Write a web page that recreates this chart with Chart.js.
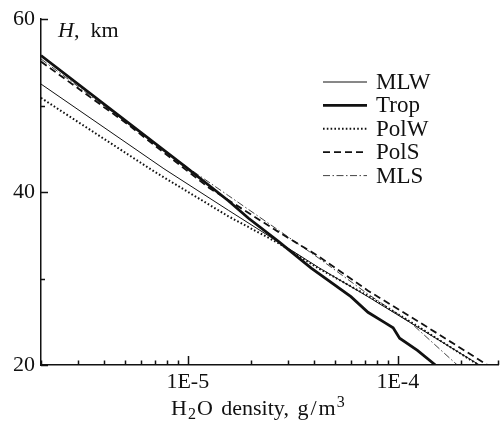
<!DOCTYPE html>
<html>
<head>
<meta charset="utf-8">
<script src="https://cdn.jsdelivr.net/npm/chart.js@4/dist/chart.umd.min.js"></script>
<style>
  body { margin: 0; background: #fff; }
  #wrap { position: relative; width: 502px; height: 421px; font-family: "Liberation Serif", "DejaVu Serif", serif; color: #111; }
  canvas { position: absolute; left: 0; top: 0; }
  .lbl { position: absolute; font-size: 22px; line-height: 22px; white-space: nowrap; }
  #xtitle { word-spacing: 3px; }
  .lbl sub { font-size: 16px; vertical-align: -4px; line-height: 0; margin: 0 1px; }
  .lbl sup { font-size: 16px; vertical-align: 8px; line-height: 0; margin-left: 1px; }
  .slash { margin: 0 2px; }
</style>
</head>
<body>
<div id="wrap">
  <canvas id="myChart" width="502" height="421"></canvas>
  <div class="lbl" id="ytitle" style="left:58px; top:19px;"><i>H</i>,&nbsp; km</div>
  <div class="lbl" id="xtitle" style="left:171px; top:397px;">H<sub>2</sub>O density, g<span class="slash">/</span>m<sup>3</sup></div>
</div>
<script>
// ---------------------------------------------------------------
// data: H2O density (g/m3) vs altitude H (km)
// ---------------------------------------------------------------
var seriesNames = ['MLW', 'Trop', 'PolW', 'PolS', 'MLS'];

var densMLW = [2.0e-6, 7.7e-6, 1.56e-5, 4.18e-5, 7.21e-5, 1.24e-4, 2.45e-4];
var hMLW    = [52.5, 42.7, 37.9, 31.3, 27.9, 24.4, 20.0];

var densTrop = [2.0e-6, 9.9e-6, 1.56e-5, 1.94e-5, 2.7e-5, 3.87e-5, 5.98e-5, 7.21e-5, 8.67e-5, 9.5e-5, 1.02e-4, 1.24e-4, 1.51e-4];
var hTrop    = [55.8, 42.8, 39.0, 37.0, 34.3, 31.2, 27.9, 26.1, 24.9, 24.3, 23.1, 21.7, 20.0];

var densPolW = [2.0e-6, 6.9e-6, 1.56e-5, 2.7e-5, 4.18e-5, 7.21e-5, 1.24e-4, 2.42e-4];
var hPolW    = [50.9, 42.4, 37.2, 34.1, 31.2, 28.0, 24.5, 20.0];

var densPolS = [2.0e-6, 5.14e-6, 1.26e-5, 2.7e-5, 4.18e-5, 7.21e-5, 1.24e-4, 2.67e-4];
var hPolS    = [55.1, 47.9, 40.5, 35.4, 32.6, 28.6, 25.1, 20.0];

var densMLS = [2.0e-6, 5.14e-6, 9.9e-6, 1.56e-5, 2.7e-5, 4.18e-5, 7.21e-5, 1.15e-4, 1.92e-4];
var hMLS    = [55.4, 48.0, 42.9, 39.6, 35.6, 32.4, 28.2, 24.9, 20.0];

var yTicks = [20, 30, 40, 50, 60];
var yTickLabels = ['20', '', '40', '', '60'];
var xTickDecades = [1e-5, 1e-4];
var xTickLabels = ['1E-5', '1E-4'];
var xMin = 2e-6, xMax = 3e-4;

// ---------------------------------------------------------------
function pts(d, h) {
    return d.map(function (v, i) { return { x: v, y: h[i] }; });
}

var xTicks = [];
[-6, -5, -4].forEach(function (e) {
    for (var m = 1; m <= 9; m++) {
        var v = m * Math.pow(10, e);
        if (v >= xMin * 0.999 && v <= xMax * 1.001) xTicks.push(v);
    }
});

function isDecade(v) {
    var l = Math.log10(v);
    return Math.abs(l - Math.round(l)) < 1e-6;
}

var serif = '"Liberation Serif", "DejaVu Serif", serif';

// inward tick marks + legend drawn inside plot
var extras = {
    id: 'extras',
    afterDraw: function (chart) {
        var ctx = chart.ctx;
        var xs = chart.scales.x, ys = chart.scales.y;
        var area = chart.chartArea;
        ctx.save();
        ctx.strokeStyle = '#111';
        ctx.lineWidth = 1.5;
        ctx.setLineDash([]);
        ctx.beginPath();
        xTicks.forEach(function (v) {
            var px = Math.round(xs.getPixelForValue(v)) + 0.5;
            var len = isDecade(v) ? 9 : 4.5;
            ctx.moveTo(px, area.bottom);
            ctx.lineTo(px, area.bottom - len);
        });
        yTicks.forEach(function (v, i) {
            var py = Math.round(ys.getPixelForValue(v)) + 0.5;
            var len = yTickLabels[i] ? 7 : 4;
            ctx.moveTo(area.left, py);
            ctx.lineTo(area.left + len, py);
        });
        ctx.stroke();

        // legend
        var ds = chart.data.datasets;
        ds.forEach(function (d, i) {
            var y = 82 + i * 23.4;
            ctx.strokeStyle = d.borderColor;
            ctx.lineWidth = d.borderWidth;
            ctx.setLineDash(d.borderDash || []);
            ctx.beginPath();
            ctx.moveTo(323, y);
            ctx.lineTo(367, y);
            ctx.stroke();
            ctx.setLineDash([]);
            ctx.fillStyle = '#111';
            ctx.font = '23px ' + serif;
            ctx.textBaseline = 'middle';
            ctx.textAlign = 'left';
            ctx.fillText(d.label, 376, y + 1);
        });
        ctx.restore();
    }
};

var ctx = document.getElementById('myChart').getContext('2d');

var myChart = new Chart(ctx, {
    type: 'scatter',
    data: {
        datasets: [
            { label: seriesNames[0], data: pts(densMLW, hMLW),   borderColor: '#111', borderWidth: 1,   borderDash: [] },
            { label: seriesNames[1], data: pts(densTrop, hTrop), borderColor: '#111', borderWidth: 2.8, borderDash: [] },
            { label: seriesNames[2], data: pts(densPolW, hPolW), borderColor: '#111', borderWidth: 2,   borderDash: [1.6, 2.2] },
            { label: seriesNames[3], data: pts(densPolS, hPolS), borderColor: '#111', borderWidth: 1.8, borderDash: [7, 4] },
            { label: seriesNames[4], data: pts(densMLS, hMLS),   borderColor: '#111', borderWidth: 0.8, borderDash: [7, 2.5, 1.5, 2.5] }
        ].map(function (d) {
            d.showLine = true;
            d.pointRadius = 0;
            d.fill = false;
            d.tension = 0;
            return d;
        })
    },
    options: {
        responsive: false,
        animation: false,
        devicePixelRatio: 1,
        layout: { padding: { top: 18, right: -1, left: 0, bottom: 0 } },
        plugins: {
            legend: { display: false },
            tooltip: { enabled: false }
        },
        scales: {
            x: {
                type: 'logarithmic',
                min: xMin,
                max: xMax,
                afterBuildTicks: function (scale) {
                    scale.ticks = xTicks.map(function (v) { return { value: v }; });
                },
                afterFit: function (scale) { scale.height = 56; },
                grid: { display: false, drawTicks: false },
                border: { display: true, color: '#111', width: 1.5 },
                ticks: {
                    autoSkip: false,
                    maxRotation: 0,
                    padding: 4,
                    color: '#111',
                    font: { family: serif, size: 22 },
                    callback: function (v) {
                        for (var i = 0; i < xTickDecades.length; i++) {
                            if (Math.abs(v / xTickDecades[i] - 1) < 1e-6) return xTickLabels[i];
                        }
                        return '';
                    }
                }
            },
            y: {
                type: 'linear',
                min: 20,
                max: 60,
                afterBuildTicks: function (scale) {
                    scale.ticks = yTicks.map(function (v) { return { value: v }; });
                },
                afterFit: function (scale) { scale.width = 41; },
                grid: { display: false, drawTicks: false },
                border: { display: true, color: '#111', width: 1.5 },
                ticks: {
                    padding: 6,
                    color: '#111',
                    font: { family: serif, size: 22 },
                    callback: function (v) {
                        var i = yTicks.indexOf(v);
                        return i >= 0 ? yTickLabels[i] : '';
                    }
                }
            }
        }
    },
    plugins: [extras]
});
</script>
</body>
</html>
